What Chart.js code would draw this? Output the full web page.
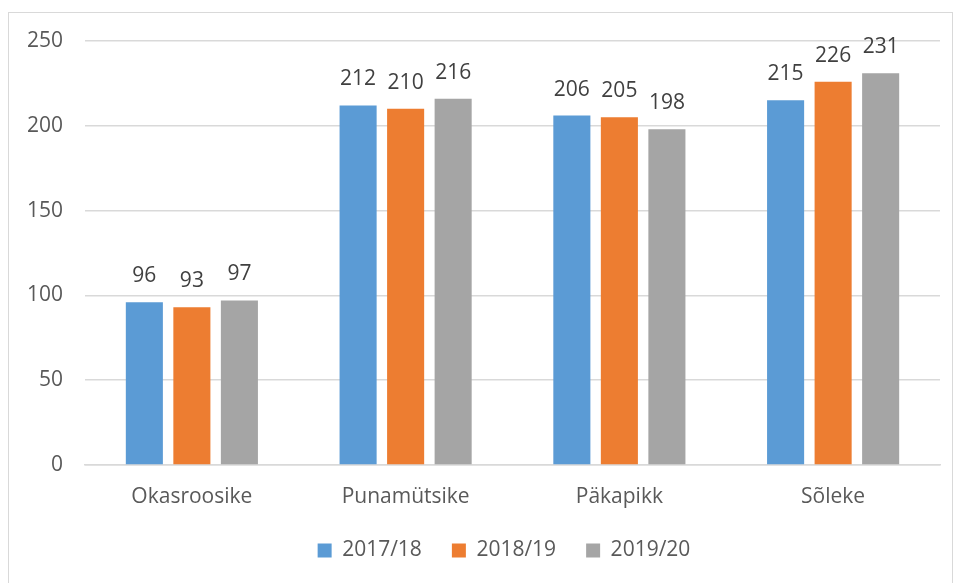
<!DOCTYPE html>
<html>
<head>
<meta charset="utf-8">
<script src="https://cdn.jsdelivr.net/npm/chart.js@4"></script>
<style>
  body { margin: 0; background: #fff; }
  #wrap { position: relative; width: 960px; height: 583px; }
  #frame { position: absolute; left: 8px; top: 12px; width: 943px; height: 575px; border: 1px solid #d9d9d9; }
  canvas { position: absolute; left: 0; top: 0; }
</style>
</head>
<body>
<div id="wrap">
  <div id="frame"></div>
  <canvas id="chart" width="960" height="583"></canvas>
</div>
<script>
const categories = ['Okasroosike', 'Punamütsike', 'Päkapikk', 'Sõleke'];
const seriesLabels = ['2017/18', '2018/19', '2019/20'];
const values2017 = [96, 212, 206, 215];
const values2018 = [93, 210, 205, 226];
const values2019 = [97, 216, 198, 231];
const colors = ['#5B9BD5', '#ED7D31', '#A5A5A5'];

const fontFamily = '"Open Sans", "Noto Sans", sans-serif';
const fontSize = 21;

// simple value labels above bars
const valueLabels = {
    id: 'valueLabels',
    afterLayout(chart) {
        // legend sits a bit right of centre in the original
        chart.legend.left += 34;
        chart.legend.right += 34;
    },
    afterDatasetsDraw(chart) {
        const ctx = chart.ctx;
        ctx.save();
        ctx.font = fontSize + 'px ' + fontFamily;
        ctx.fillStyle = '#404040';
        ctx.textAlign = 'center';
        ctx.textBaseline = 'middle';
        chart.data.datasets.forEach((ds, i) => {
            chart.getDatasetMeta(i).data.forEach((bar, j) => {
                ctx.fillText(ds.data[j], bar.x, bar.y - 26);
            });
        });
        ctx.restore();
    }
};

new Chart(document.getElementById('chart'), {
    type: 'bar',
    data: {
        labels: categories,
        datasets: [values2017, values2018, values2019].map((d, i) => ({
            label: seriesLabels[i],
            data: d,
            backgroundColor: colors[i],
            categoryPercentage: 0.667,
            barPercentage: 0.78
        }))
    },
    options: {
        responsive: false,
        animation: false,
        layout: { padding: { top: 41, right: 20, bottom: 12, left: 0 } },
        plugins: {
            legend: {
                position: 'bottom',
                labels: {
                    boxWidth: 14, boxHeight: 14, padding: 30,
                    color: '#595959',
                    font: { family: fontFamily, size: fontSize }
                }
            },
            tooltip: { enabled: false }
        },
        scales: {
            x: {
                grid: { display: false },
                border: { color: '#d9d9d9', width: 1.5 },
                ticks: { color: '#595959', padding: 11, font: { family: fontFamily, size: fontSize } },
                afterFit: s => { s.height = 45; }
            },
            y: {
                min: 0, max: 250,
                ticks: { stepSize: 50, color: '#595959', padding: 22, font: { family: fontFamily, size: fontSize } },
                grid: { color: '#d9d9d9', lineWidth: 1.5, drawTicks: false },
                border: { display: false },
                afterFit: s => { s.width = 85; }
            }
        }
    },
    plugins: [valueLabels]
});
</script>
</body>
</html>
